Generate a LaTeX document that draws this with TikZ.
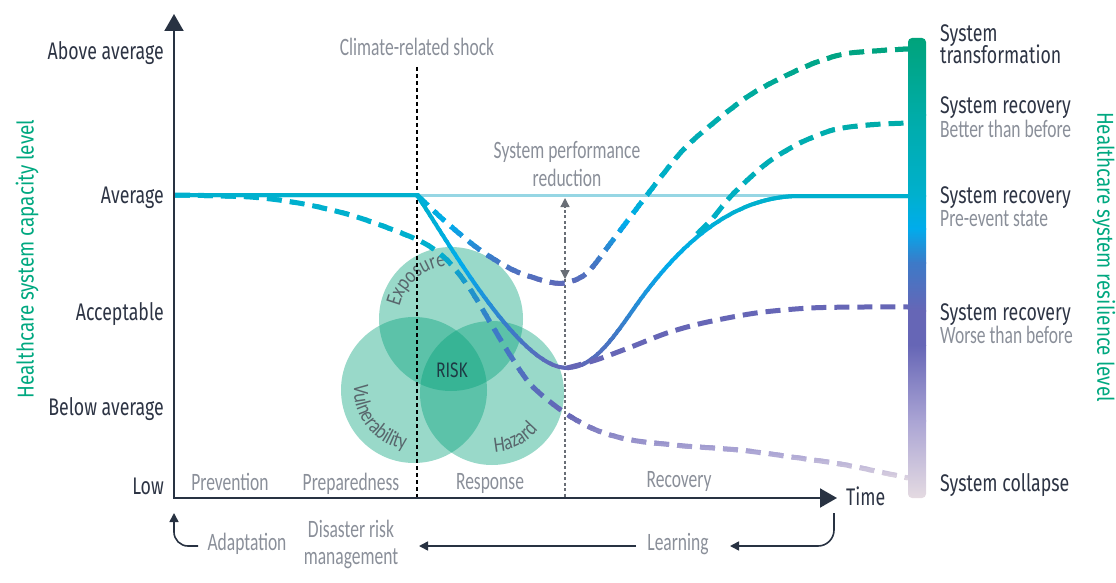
\documentclass[tikz,border=0pt]{standalone}
\usepackage{fontspec}
\setmainfont{Fira Sans}
\newfontfamily\darkf{Fira Sans}[FakeStretch=0.74]
\newfontfamily\grayf{Carlito}[FakeStretch=0.70]
\newfontfamily\circf{Carlito}[FakeStretch=0.80]
\newfontfamily\greenf{Fira Sans}[FakeStretch=0.82]
\usetikzlibrary{arrows.meta,decorations.text}
\definecolor{darkT}{RGB}{45,52,68}
\definecolor{grayT}{RGB}{138,143,153}
\definecolor{greenL}{RGB}{0,168,128}
\definecolor{axisC}{RGB}{40,50,66}
\definecolor{cyanC}{RGB}{0,176,206}
\definecolor{brightC}{RGB}{0,172,236}
\definecolor{blueC}{RGB}{60,122,200}
\definecolor{purpC}{RGB}{102,102,182}
\definecolor{lavC}{RGB}{170,164,212}
\definecolor{paleC}{RGB}{230,220,226}
\definecolor{greenC}{RGB}{0,163,122}
\definecolor{tealC}{RGB}{0,172,168}
\definecolor{refC}{RGB}{150,214,228}
\definecolor{circC}{RGB}{0,160,120}
\definecolor{circT}{RGB}{88,102,108}
\definecolor{riskC}{RGB}{30,58,68}
\definecolor{garrC}{RGB}{105,110,118}
\newcommand\circfont{\circf\fontsize{22}{24}\selectfont}
\newcommand\gpart[6]{%
  \foreach \k in {0,...,9}{%
    \pgfmathsetmacro\gya{#3+(#4-#3)*\k/10-0.4}%
    \pgfmathsetmacro\gyb{#3+(#4-#3)*(\k+1)/10+0.4}%
    \pgfmathsetmacro\gpc{100*(\k+0.5)/10}%
    \begin{scope}
      \clip (-20,\gya) rectangle (1140,\gyb);
      \draw[#2,draw=#6!\gpc!#5] #1;
    \end{scope}%
  }}
\def\curveS{(175,195) -- (417,195) .. controls (450,245) and (520,368) .. (567,368) .. controls (595,368) and (615,335) .. (640,300) .. controls (678,248) and (730,196) .. (800,196) -- (908,196)}
\def\curveT{plot[smooth] coordinates {(417,195) (447,223) (480,250) (513,270) (545,281) (565,283) (587,273) (613,240) (647,195) (683,150) (717,120) (750,95) (783,77) (817,62) (850,53) (908,49)}}
\def\curveB{plot[smooth] coordinates {(697,234) (712,219) (733,194) (767,163) (800,143) (833,130) (867,125) (908,123)}}
\def\curveW{plot[smooth] coordinates {(567,368) (596,360) (631,347) (667,333) (703,323) (756,313) (810,308) (864,307) (908,307)}}
\def\curveK{plot[smooth] coordinates {(175,195) (250,197) (304,204) (357,217) (418,240) (446,259) (470,289) (490,322) (510,355) (532,386) (565,413) (596,430) (631,440) (685,446) (739,450) (792,457) (846,465) (908,478)}}
\begin{document}
\begin{tikzpicture}[x=1pt,y=-1pt,
  dk/.style={font=\darkf\fontsize{24}{26}\selectfont, text=darkT, inner sep=0pt},
  gr/.style={font=\grayf\fontsize{25}{27}\selectfont, text=grayT, inner sep=0pt},
  gl/.style={font=\greenf\fontsize{23}{25}\selectfont, text=greenL, inner sep=0pt},
  axis/.style={draw=axisC, line width=2pt},
  barr/.style={draw=axisC, line width=1.6pt, -{Triangle[length=9pt,width=9pt]}},
  dsh/.style={line width=5pt, dash pattern=on 15pt off 8pt},
  sol/.style={line width=4pt},
  gdash/.style={draw=garrC, line width=1.3pt, dash pattern=on 3pt off 2.5pt},
  circ/.style={fill=circC, fill opacity=0.4},
]
\useasboundingbox (0,0) rectangle (1116,583);
% risk circles
\fill[circ] (451,319) circle (72pt);
\fill[circ] (414,390) circle (73pt);
\fill[circ] (492,393) circle (72pt);
\path[decorate, decoration={text along path, text={|\circfont\color{circT}|Exposure}, text align=center}] (451,319) ++(167:53pt) arc (167:95:53pt);
\path[decorate, decoration={text along path, text={|\circfont\color{circT}|Vulnerability}, text align=center}] (414,390) ++(172:60pt) arc (172:264:60pt);
\path[decorate, decoration={text along path, text={|\circfont\color{circT}|Hazard}, text align=center}] (492,393) ++(262:59pt) arc (262:332:59pt);
\node[font=\darkf\fontsize{21}{23}\selectfont, text=riskC, inner sep=0pt] (risk) at (452,370) {RISK};
% reference line
\coordinate (refA) at (417,195);
\coordinate (refB) at (908,195);
\draw[refC, line width=3pt] (refA) -- (refB);
% performance reduction arrow
\coordinate (pm) at (565,240);
\coordinate (ptop) at (565,198);
\coordinate (pbot) at (565,279);
\coordinate (pax) at (565,498);
\draw[gdash, -{Triangle[length=9pt,width=9pt]}] (pm) -- (ptop);
\draw[gdash, -{Triangle[length=9pt,width=9pt]}] (pm) -- (pbot);
\draw[gdash] (pbot) -- (pax);
% shock line
\coordinate (shT) at (417,67);
\coordinate (shB) at (417,498);
\draw[black, line width=1.5pt, dash pattern=on 4pt off 3pt] (shT) -- (shB);
% curves
\gpart{\curveK}{dsh}{185}{250}{cyanC}{cyanC}
\gpart{\curveK}{dsh}{250}{330}{cyanC}{blueC}
\gpart{\curveK}{dsh}{330}{415}{blueC}{purpC}
\gpart{\curveK}{dsh}{415}{452}{purpC}{lavC}
\gpart{\curveK}{dsh}{452}{486}{lavC}{paleC}
\gpart{\curveS}{sol}{185}{205}{cyanC}{cyanC}
\gpart{\curveS}{sol}{205}{265}{cyanC}{brightC}
\gpart{\curveS}{sol}{265}{330}{brightC}{blueC}
\gpart{\curveS}{sol}{330}{375}{blueC}{purpC}
\gpart{\curveT}{dsh}{40}{110}{greenC}{tealC}
\gpart{\curveT}{dsh}{110}{190}{tealC}{cyanC}
\gpart{\curveT}{dsh}{190}{225}{cyanC}{brightC}
\gpart{\curveT}{dsh}{225}{258}{brightC}{blueC}
\gpart{\curveT}{dsh}{258}{292}{blueC}{purpC}
\gpart{\curveB}{dsh}{115}{242}{tealC}{cyanC}
\draw[dsh, purpC] \curveW;
% resilience bar
\begin{scope}
\clip[rounded corners=4pt] (908,38) rectangle (926,498);
\shade[top color=greenC,bottom color=tealC] (900,36) rectangle (934,116);
\shade[top color=tealC,bottom color=cyanC] (900,115) rectangle (934,196);
\shade[top color=cyanC,bottom color=brightC] (900,195) rectangle (934,229);
\shade[top color=brightC,bottom color=blueC] (900,228) rectangle (934,263);
\shade[top color=blueC,bottom color=purpC] (900,262) rectangle (934,311);
\fill[purpC] (900,310) rectangle (934,346);
\shade[top color=purpC,bottom color=lavC] (900,345) rectangle (934,421);
\shade[top color=lavC,bottom color=paleC] (900,420) rectangle (934,500);
\end{scope}
% axes
\coordinate (O) at (174,498);
\coordinate (ytip) at (174,14);
\coordinate (xtip) at (837,498);
\draw[axis, -{Triangle[length=17pt,width=19pt]}] (O) -- (ytip);
\draw[axis, -{Triangle[length=17pt,width=19pt]}] ([xshift=-1pt]O) -- (xtip);
% y labels
\node[dk, anchor=base east] (yl1) at (164,60) {Above average};
\node[dk, anchor=base east] (yl2) at (164,203) {Average};
\node[dk, anchor=base east] (yl3) at (164,320) {Acceptable};
\node[dk, anchor=base east] (yl4) at (164,415) {Below average};
\node[dk, anchor=base east] (yl5) at (164,494) {Low};
\node[dk, anchor=base west] (time) at (846,505) {Time};
% axis titles
\node[gl, rotate=90] (ytitle) at (27,259) {Healthcare system capacity level};
\node[gl, rotate=-90] (rtitle) at (1104,257) {Healthcare system resilience level};
% top labels
\node[gr, anchor=base] (shock) at (417,56) {Climate-related shock};
\node[gr, anchor=base] (perf1) at (567,158) {System performance};
\node[gr, anchor=base] (perf2) at (567,186) {reduction};
% phases
\node[gr, anchor=base] (ph1) at (230,490) {Prevention};
\node[gr, anchor=base] (ph2) at (351,490) {Preparedness};
\node[gr, anchor=base] (ph3) at (490,489) {Response};
\node[gr, anchor=base] (ph4) at (679,487) {Recovery};
% right labels
\node[dk, anchor=base west] (r1a) at (940,42) {System};
\node[dk, anchor=base west] (r1b) at (940,64) {transformation};
\node[dk, anchor=base west] (r2a) at (940,114) {System recovery};
\node[gr, anchor=base west] (r2b) at (940,138) {Better than before};
\node[dk, anchor=base west] (r3a) at (940,203) {System recovery};
\node[gr, anchor=base west] (r3b) at (940,226) {Pre-event state};
\node[dk, anchor=base west] (r4a) at (940,320) {System recovery};
\node[gr, anchor=base west] (r4b) at (940,343) {Worse than before};
\node[dk, anchor=base west] (r5) at (940,491) {System collapse};
% bottom cycle
\node[gr, anchor=base] (adapt) at (247,550) {Adaptation};
\node[gr, anchor=base] (drm1) at (351,537) {Disaster risk};
\node[gr, anchor=base] (drm2) at (351,564) {management};
\node[gr, anchor=base] (learn) at (678,550) {Learning};
\coordinate (lcA) at (834,513);
\coordinate (lcB) at (730,546);
\coordinate (llA) at (636,546);
\coordinate (llB) at (419,546);
\coordinate (adA) at (198,546);
\coordinate (adB) at (174,513);
\draw[barr, rounded corners=16pt] (lcA) |- (lcB);
\draw[barr] (llA) -- (llB);
\draw[barr, rounded corners=14pt] (adA) -| (adB);
\end{tikzpicture}
\end{document}
